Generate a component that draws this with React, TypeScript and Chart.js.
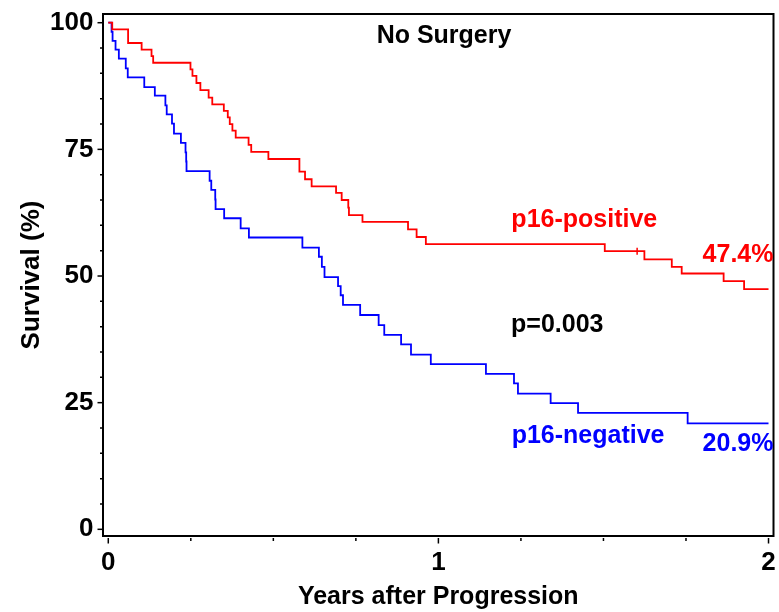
import { useEffect, useRef } from "react";
import { Chart, registerables } from "chart.js";

Chart.register(...registerables);

// Kaplan-Meier estimates: time (years) of each event and survival (%) after it
const positiveTimes = [
  0, 0.012, 0.06, 0.101, 0.131, 0.136, 0.249, 0.255, 0.267, 0.279, 0.304, 0.315,
  0.35, 0.362, 0.368, 0.376, 0.386, 0.425, 0.433, 0.485, 0.579, 0.596, 0.616,
  0.69, 0.707, 0.727, 0.729, 0.77, 0.908, 0.934, 0.962, 1.504, 1.624, 1.707,
  1.737, 1.864, 1.926, 2.0,
];
const positiveSurvival = [
  100, 98.7, 96.0, 94.7, 93.4, 92.1, 90.8, 89.5, 88.1, 86.7, 85.2, 83.9,
  82.6, 81.3, 80.0, 78.7, 77.3, 75.9, 74.5, 73.1, 70.6, 69.1, 67.7,
  66.4, 65.0, 63.5, 62.0, 60.7, 59.2, 57.7, 56.3, 54.9, 53.3, 51.8,
  50.5, 49.0, 47.4, 47.4,
];

const negativeTimes = [
  0, 0.01, 0.013, 0.022, 0.032, 0.053, 0.059, 0.109, 0.141, 0.173, 0.177, 0.193,
  0.199, 0.22, 0.234, 0.236, 0.237, 0.307, 0.312, 0.324, 0.325, 0.351, 0.401,
  0.426, 0.588, 0.638, 0.647, 0.655, 0.696, 0.704, 0.711, 0.763, 0.819, 0.836,
  0.887, 0.917, 0.977, 1.144, 1.229, 1.241, 1.34, 1.423, 1.755, 2.0,
];
const negativeSurvival = [
  100, 98.2, 96.4, 94.7, 92.9, 91.0, 89.2, 87.3, 85.6, 83.7, 81.9, 80.1,
  78.1, 76.3, 74.4, 72.6, 70.7, 68.8, 67.0, 65.1, 63.2, 61.4, 59.4,
  57.6, 55.6, 53.8, 51.8, 49.8, 48.0, 46.2, 44.3, 42.3, 40.3, 38.4,
  36.5, 34.5, 32.6, 30.7, 28.8, 26.8, 24.9, 23.0, 20.9, 20.9,
];

// censored observations
const positiveCensorTimes = [1.602];
const positiveCensorSurvival = [54.9];

const xTickValues = [0, 1, 2];
const yTickValues = [0, 25, 50, 75, 100];
const xMinorStep = 0.25;
const yMinorStep = 5;

const RED = "#ff0000";
const BLUE = "#0000ff";
const FONT_FAMILY = "'Liberation Sans', Arial, Helvetica, sans-serif";

type Note = { text: string; x: number; y: number; color: string; align: CanvasTextAlign };

const notes: Note[] = [
  { text: "No Surgery", x: 1.017, y: 97.4, color: "#000", align: "center" },
  { text: "p16-positive", x: 1.221, y: 61.1, color: RED, align: "left" },
  { text: "47.4%", x: 2.015, y: 54.2, color: RED, align: "right" },
  { text: "p=0.003", x: 1.22, y: 40.3, color: "#000", align: "left" },
  { text: "p16-negative", x: 1.222, y: 18.3, color: BLUE, align: "left" },
  { text: "20.9%", x: 2.015, y: 16.8, color: BLUE, align: "right" },
];

const toPoints = (xs: number[], ys: number[]) => xs.map((x, i) => ({ x, y: ys[i] }));

const noOverflow = (s: any) => {
  s.paddingTop = 0;
  s.paddingBottom = 0;
  s.paddingLeft = 0;
  s.paddingRight = 0;
};

// Box frame, major/minor tick marks and the text annotations
const framePlugin = {
  id: "kmFrame",
  afterDatasetsDraw(chart: any) {
    const { ctx, chartArea: a, scales } = chart;
    const xs = scales.x;
    const ys = scales.y;
    ctx.save();
    ctx.strokeStyle = "#000";
    ctx.lineWidth = 2;
    ctx.strokeRect(a.left, a.top, a.right - a.left, a.bottom - a.top);

    ctx.lineWidth = 1.5;
    for (let v = 0; v <= 100 + 1e-9; v += yMinorStep) {
      const major = yTickValues.includes(Math.round(v));
      const py = ys.getPixelForValue(v);
      ctx.beginPath();
      ctx.moveTo(a.left - 1, py);
      ctx.lineTo(a.left - (major ? 5.5 : 3), py);
      ctx.stroke();
    }
    for (let v = 0; v <= 2 + 1e-9; v += xMinorStep) {
      const major = Math.abs(v - Math.round(v)) < 1e-9;
      const px = xs.getPixelForValue(v);
      ctx.beginPath();
      ctx.moveTo(px, a.bottom + 2);
      ctx.lineTo(px, a.bottom + (major ? 7.5 : 5));
      ctx.stroke();
    }

    ctx.font = `bold 25px ${FONT_FAMILY}`;
    ctx.textBaseline = "middle";
    for (const n of notes) {
      ctx.fillStyle = n.color;
      ctx.textAlign = n.align;
      ctx.fillText(n.text, xs.getPixelForValue(n.x), ys.getPixelForValue(n.y));
    }
    ctx.restore();
  },
};

export default function App() {
  const canvasRef = useRef<HTMLCanvasElement | null>(null);

  useEffect(() => {
    const canvas = canvasRef.current;
    if (!canvas) return;
    const tickFont = { family: FONT_FAMILY, size: 26, weight: "bold" as const };
    const titleFont = { family: FONT_FAMILY, size: 25, weight: "bold" as const };

    const chart = new Chart(canvas, {
      type: "line",
      data: {
        datasets: [
          {
            label: "p16-positive",
            data: toPoints(positiveTimes, positiveSurvival),
            borderColor: RED,
            borderWidth: 1.8,
            pointRadius: 0,
            stepped: "before",
            fill: false,
          },
          {
            label: "p16-negative",
            data: toPoints(negativeTimes, negativeSurvival),
            borderColor: BLUE,
            borderWidth: 1.8,
            pointRadius: 0,
            stepped: "before",
            fill: false,
          },
          {
            label: "censored",
            data: toPoints(positiveCensorTimes, positiveCensorSurvival),
            showLine: false,
            pointStyle: "line",
            rotation: 90,
            pointRadius: 3.5,
            pointBorderWidth: 1.5,
            borderColor: RED,
            backgroundColor: RED,
          },
        ],
      },
      options: {
        animation: false,
        responsive: false,
        devicePixelRatio: 1,
        layout: { padding: { top: 14, right: 4, left: 0, bottom: 0 } },
        plugins: { legend: { display: false }, tooltip: { enabled: false } },
        scales: {
          x: {
            type: "linear",
            min: -0.016,
            max: 2.0151,
            afterBuildTicks: (s: any) => {
              s.ticks = xTickValues.map((value) => ({ value }));
            },
            afterFit: (s: any) => {
              s.height = 76;
              noOverflow(s);
            },
            grid: { display: false, drawTicks: false },
            border: { display: false },
            ticks: {
              color: "#000",
              font: tickFont,
              padding: 11,
              maxRotation: 0,
              callback: (v: any) => String(v),
            },
            title: {
              display: true,
              text: "Years after Progression",
              color: "#000",
              font: titleFont,
              padding: 0,
            },
          },
          y: {
            type: "linear",
            min: -1.32,
            max: 101.72,
            afterBuildTicks: (s: any) => {
              s.ticks = yTickValues.map((value) => ({ value }));
            },
            afterFit: (s: any) => {
              s.width = 103;
              noOverflow(s);
            },
            grid: { display: false, drawTicks: false },
            border: { display: false },
            ticks: {
              color: "#000",
              font: tickFont,
              padding: 9.5,
              callback: (v: any) => String(v),
            },
            title: {
              display: true,
              text: "Survival (%)",
              color: "#000",
              font: { family: FONT_FAMILY, size: 26, weight: "bold" as const },
              padding: { top: 16.5, bottom: 0 },
            },
          },
        },
      },
      plugins: [framePlugin],
    });
    return () => chart.destroy();
  }, []);

  return (
    <div style={{ position: "absolute", left: 0, top: 0, width: 779, height: 612, background: "#fff" }}>
      <canvas ref={canvasRef} width={779} height={612} style={{ display: "block", width: 779, height: 612 }} />
    </div>
  );
}
